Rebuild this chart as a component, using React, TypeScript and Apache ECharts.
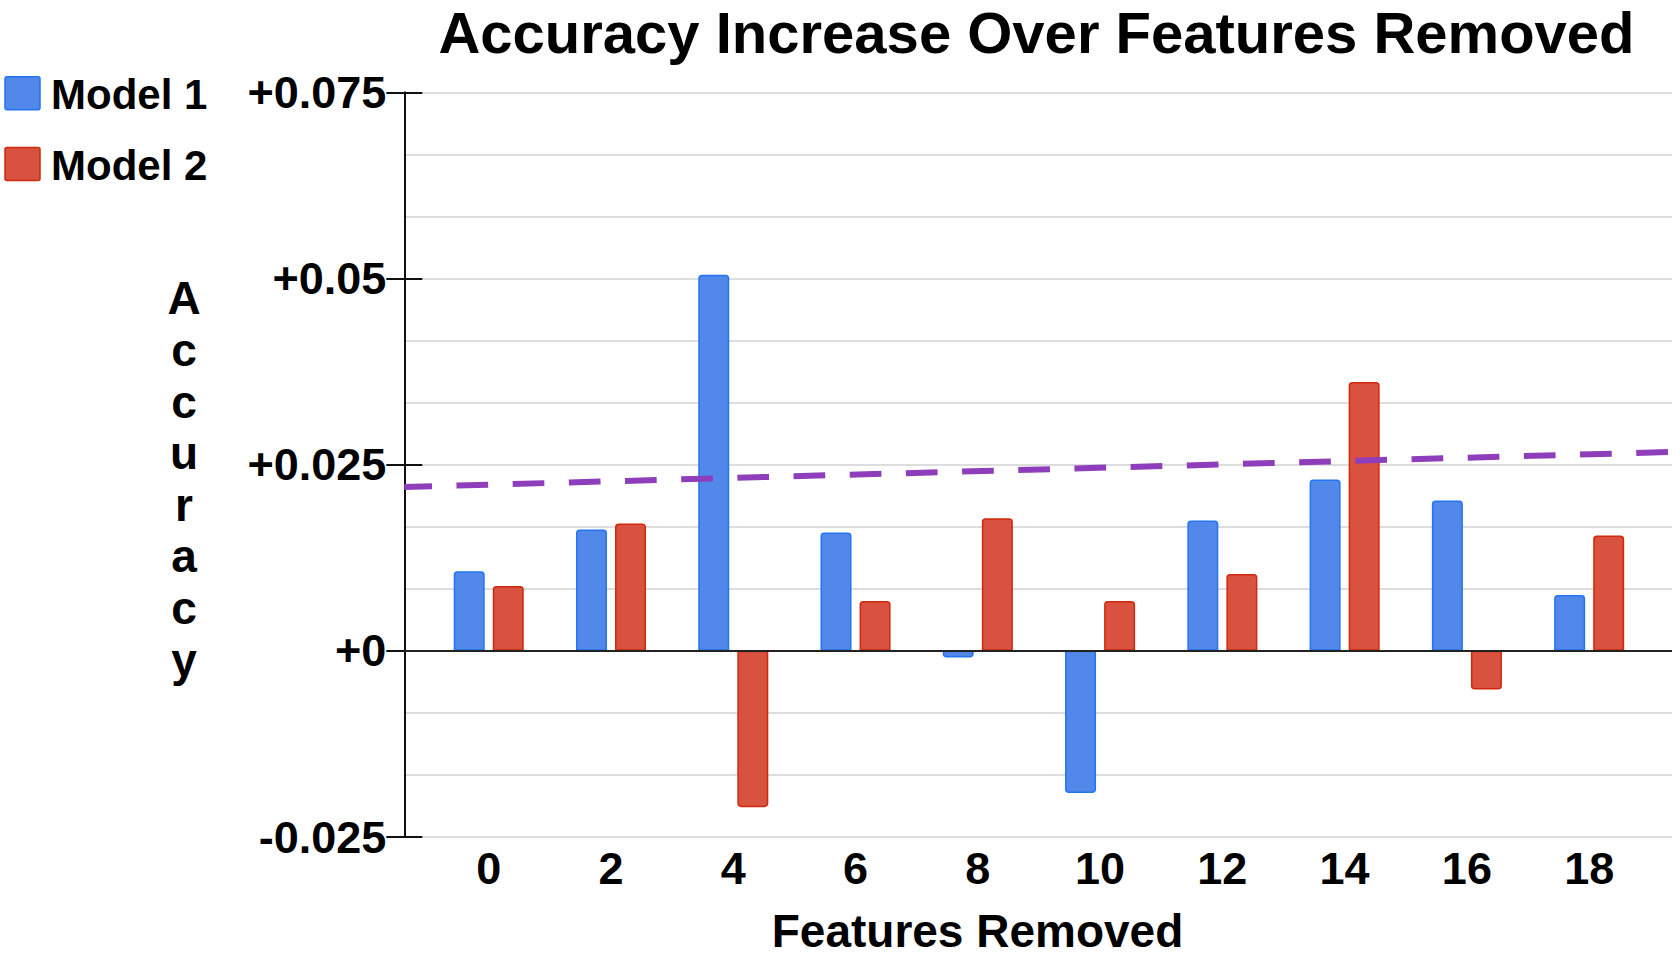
import React, { useEffect, useRef } from "react";
import * as echarts from "echarts";

const categories = ["0", "2", "4", "6", "8", "10", "12", "14", "16", "18"];
const model1 = [0.0107, 0.0163, 0.0505, 0.0159, -0.0009, -0.0191, 0.0175, 0.023, 0.0202, 0.0075];
const model2 = [0.0087, 0.0171, -0.021, 0.0067, 0.0178, 0.0067, 0.0103, 0.0361, -0.0052, 0.0155];
const seriesNames = ["Model 1", "Model 2"];
const seriesFill = ["#5188ea", "#d9513f"];
const seriesEdge = ["#2274f2", "#d0280c"];
const trendX = [0, 1];
const trendY = [0.0220, 0.0267];
const yMin = -0.025;
const yMax = 0.075;
const yStep = 0.025;

const FONT = "'Liberation Sans', Arial, Helvetica, sans-serif";

function fmt(v: number): string {
  const r = Math.round(v * 1000) / 1000;
  return r >= 0 ? "+" + Math.abs(r) : String(r);
}

function barData(vals: number[]) {
  return vals.map((v) => ({
    value: v,
    itemStyle: { borderRadius: v >= 0 ? [3, 3, 0, 0] : [0, 0, 3, 3] },
  }));
}

export default function App() {
  const ref = useRef<HTMLDivElement>(null);
  useEffect(() => {
    if (!ref.current) return;
    const chart = echarts.init(ref.current, undefined, { renderer: "svg" });
    const gridTop = 92.3;
    const gridBottom = 956 - 837;
    const legendGraphics: any[] = [];
    seriesNames.forEach((name, i) => {
      const top = 76.7 + i * 70.7;
      legendGraphics.push({
        type: "rect",
        shape: { x: 5, y: top, width: 35, height: 33, r: 2 },
        style: { fill: seriesFill[i], stroke: seriesEdge[i], lineWidth: 1.5 },
      });
      legendGraphics.push({
        type: "text",
        x: 51,
        y: top + 18,
        style: {
          text: name,
          fontFamily: FONT,
          fontSize: 42,
          fontWeight: "bold",
          lineHeight: 40,
          fill: "#000",
          textAlign: "left",
          textVerticalAlign: "middle",
        },
      });
    });
    const option: any = {
      animation: false,
      backgroundColor: "#ffffff",
      textStyle: { fontFamily: FONT },
      graphic: [
        {
          type: "text",
          x: 1036.5,
          y: 32,
          style: {
            text: "Accuracy Increase Over Features Removed",
            fontFamily: FONT,
            fontSize: 58,
            fontWeight: "bold",
            lineHeight: 50,
            fill: "#000",
            textAlign: "center",
            textVerticalAlign: "middle",
          },
        },
        {
          type: "text",
          x: 184,
          y: 272.5,
          style: {
            text: "A\nc\nc\nu\nr\na\nc\ny",
            fontFamily: FONT,
            fontSize: 46,
            fontWeight: "bold",
            lineHeight: 51.6,
            fill: "#000",
            textAlign: "center",
            textVerticalAlign: "top",
          },
        },
        {
          type: "text",
          x: 977.5,
          y: 931,
          style: {
            text: "Features Removed",
            fontFamily: FONT,
            fontSize: 46,
            fontWeight: "bold",
            lineHeight: 40,
            fill: "#000",
            textAlign: "center",
            textVerticalAlign: "middle",
          },
        },
        ...legendGraphics,
      ],
      grid: [
        { left: 404.3, right: 8, top: gridTop, bottom: gridBottom },
        { left: 427.6, right: 29.7, top: gridTop, bottom: gridBottom },
      ],
      xAxis: [
        { type: "value", gridIndex: 0, min: 0, max: 1, show: false },
        {
          type: "category",
          gridIndex: 1,
          data: categories,
          boundaryGap: true,
          axisLine: { show: false },
          axisTick: { show: false },
          splitLine: { show: false },
          axisLabel: {
            interval: 0,
            margin: 9,
            fontFamily: FONT,
            fontSize: 45,
            fontWeight: "bold",
            color: "#000",
          },
        },
      ],
      yAxis: [
        {
          type: "value",
          gridIndex: 0,
          min: yMin,
          max: yMax,
          interval: yStep,
          position: "left",
          axisLine: { show: true, onZero: false, lineStyle: { color: "#111", width: 2 } },
          axisTick: { show: true, length: 18, lineStyle: { color: "#111", width: 2 } },
          axisLabel: {
            margin: 18,
            formatter: fmt,
            fontFamily: FONT,
            fontSize: 45,
            fontWeight: "bold",
            color: "#000",
          },
          splitLine: { show: true, lineStyle: { color: "#dddddd", width: 2 } },
          minorTick: { show: false, splitNumber: 3 },
          minorSplitLine: { show: true, lineStyle: { color: "#dddddd", width: 2 } },
        },
        {
          type: "value",
          gridIndex: 0,
          min: yMin,
          max: yMax,
          interval: yStep,
          position: "left",
          axisLine: { show: false },
          axisTick: { show: true, inside: true, length: 18, lineStyle: { color: "#111", width: 2 } },
          axisLabel: { show: false },
          splitLine: { show: false },
        },
        {
          type: "value",
          gridIndex: 1,
          min: yMin,
          max: yMax,
          interval: yStep,
          show: false,
        },
      ],
      series: [
        {
          name: seriesNames[0],
          type: "bar",
          xAxisIndex: 1,
          yAxisIndex: 2,
          data: barData(model1),
          barWidth: 31,
          barGap: "26%",
          z: 2,
          itemStyle: { color: seriesFill[0], borderColor: seriesEdge[0], borderWidth: 1.5 },
        },
        {
          name: seriesNames[1],
          type: "bar",
          xAxisIndex: 1,
          yAxisIndex: 2,
          data: barData(model2),
          barWidth: 31,
          barGap: "26%",
          z: 2,
          itemStyle: { color: seriesFill[1], borderColor: seriesEdge[1], borderWidth: 1.5 },
        },
        {
          name: "Trend",
          type: "line",
          xAxisIndex: 0,
          yAxisIndex: 0,
          data: trendX.map((x, i) => [x, trendY[i]]),
          symbol: "none",
          silent: true,
          z: 4,
          lineStyle: { color: "#8e3eba", width: 6, type: [31.7, 24.5], dashOffset: 3.5 },
          markLine: {
            silent: true,
            symbol: "none",
            label: { show: false },
            z: 3,
            lineStyle: { color: "#222", width: 2, type: "solid" },
            data: [{ yAxis: 0 }],
          },
        },
      ],
    };
    chart.setOption(option);
    return () => chart.dispose();
  }, []);
  return (
    <div
      ref={ref}
      style={{ position: "fixed", left: 0, top: 0, width: 1680, height: 956 }}
    />
  );
}
